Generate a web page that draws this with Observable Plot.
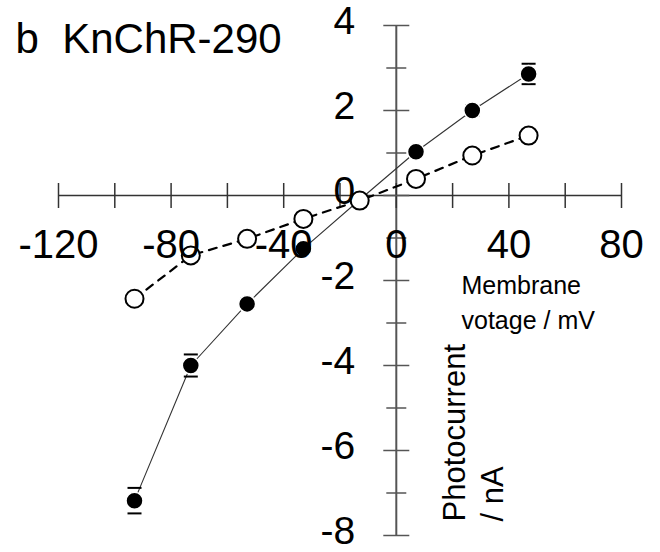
<!DOCTYPE html>
<html>
<head>
<meta charset="utf-8">
<script src="https://cdn.jsdelivr.net/npm/d3@7"></script>
<script src="https://cdn.jsdelivr.net/npm/@observablehq/plot@0.6"></script>
<style>
  body { margin: 0; background: #fff; }
  #chart { width: 660px; height: 552px; }
</style>
</head>
<body>
<div id="chart"></div>
<script>
// Photocurrent–voltage relation of KnChR-290 (mean ± s.e.)
const voltage = [-93, -73, -53, -33, -13, 7, 27, 47];           // mV
const currentFilled = [-7.18, -4.0, -2.55, -1.25, -0.1, 1.03, 2.0, 2.86]; // nA
const errorFilled = [0.3, 0.26, 0.12, 0.1, 0.05, 0.1, 0.12, 0.24];
const currentOpen = [-2.43, -1.41, -1.02, -0.55, -0.12, 0.39, 0.94, 1.41]; // nA
const errorOpen = [0.08, 0.08, 0.06, 0.05, 0.03, 0.05, 0.06, 0.08];

const xTicks = [-120, -100, -80, -60, -40, -20, 0, 20, 40, 60, 80];
const xTickLabels = [-120, -80, -40, 0, 40, 80];
const yMajorTicks = [-8, -6, -4, -2, 0, 2, 4];
const yMinorTicks = [-7, -5, -3, -1, 1, 3];
const yTickLabels = [-8, -6, -4, -2, 0, 2, 4];

const filled = voltage.map((v, i) => ({v, y: currentFilled[i], e: errorFilled[i]}));
const open = voltage.map((v, i) => ({v, y: currentOpen[i], e: errorOpen[i]}));

// short line symbols for axis ticks crossing the axes and error-bar caps
const vLine = (h) => ({draw(ctx) { ctx.moveTo(0, -h); ctx.lineTo(0, h); }});
const hLine = (w) => ({draw(ctx) { ctx.moveTo(-w, 0); ctx.lineTo(w, 0); }});

const font = "'Liberation Sans', Arial, Helvetica, sans-serif";

const caps = (data, stroke) => [
  Plot.dot(data, {x: "v", y: (d) => d.y + d.e, symbol: hLine(7), fill: "none", stroke, strokeWidth: 2}),
  Plot.dot(data, {x: "v", y: (d) => d.y - d.e, symbol: hLine(7), fill: "none", stroke, strokeWidth: 2})
];

const chart = Plot.plot({
  width: 660,
  height: 552,
  marginLeft: 58,
  marginRight: 39,
  marginTop: 25,
  marginBottom: 17,
  x: {domain: [-120, 80], axis: null},
  y: {domain: [-8, 4], axis: null},
  style: {fontFamily: font, background: "white", color: "black"},
  marks: [
    // axes crossing at the origin
    Plot.ruleY([0], {stroke: "#333", strokeWidth: 1.5}),
    Plot.ruleX([0], {stroke: "#555", strokeWidth: 2}),
    Plot.dot(xTicks, {x: (d) => d, y: 0, symbol: vLine(12.5), fill: "none", stroke: "#333", strokeWidth: 1.5}),
    Plot.dot(yMajorTicks, {x: 0, y: (d) => d, symbol: hLine(13), fill: "none", stroke: "#555", strokeWidth: 1.5}),
    Plot.dot(yMinorTicks, {x: 0, y: (d) => d, symbol: hLine(10), fill: "none", stroke: "#555", strokeWidth: 1.5}),

    // filled series: solid line, error caps, dots
    Plot.line(filled, {x: "v", y: "y", stroke: "#333", strokeWidth: 1.1}),
    ...caps(filled, "black"),
    Plot.dot(filled, {x: "v", y: "y", r: 8.5, fill: "black", stroke: "white", strokeWidth: 1.5}),

    // open series: dashed line, error caps, dots
    Plot.line(open, {x: "v", y: "y", stroke: "black", strokeWidth: 2.2, strokeDasharray: "8,7"}),
    ...caps(open, "black"),
    Plot.dot(open, {x: "v", y: "y", r: 9, fill: "white", stroke: "black", strokeWidth: 2}),

    // tick labels
    Plot.text(xTickLabels, {x: (d) => d, y: 0, text: (d) => String(d), dy: 50, fontSize: 40, fill: "black"}),
    Plot.text(yTickLabels, {x: 0, y: (d) => d, text: (d) => String(d), dx: -41, dy: -4, textAnchor: "end", fontSize: 39, fill: "black"}),

    // panel title and axis titles
    Plot.text(["b\u00a0\u00a0KnChR-290"], {
      frameAnchor: "top-left", text: (d) => d, textAnchor: "start", lineAnchor: "top",
      dx: -43, dy: -2, fontSize: 42, fill: "black"
    }),
    Plot.text(["Membrane\nvotage / mV"], {
      frameAnchor: "top-left", text: (d) => d, textAnchor: "start", lineAnchor: "top",
      lineHeight: 1.4, dx: 403, dy: 244, fontSize: 25, fill: "black"
    }),
    Plot.text(["Photocurrent\n/ nA"], {
      frameAnchor: "bottom-left", text: (d) => d, textAnchor: "start", lineAnchor: "middle",
      rotate: -90, lineHeight: 1.23, dx: 413, dy: -14, fontSize: 31, fill: "black"
    })
  ]
});

document.getElementById("chart").appendChild(chart);
</script>
</body>
</html>
